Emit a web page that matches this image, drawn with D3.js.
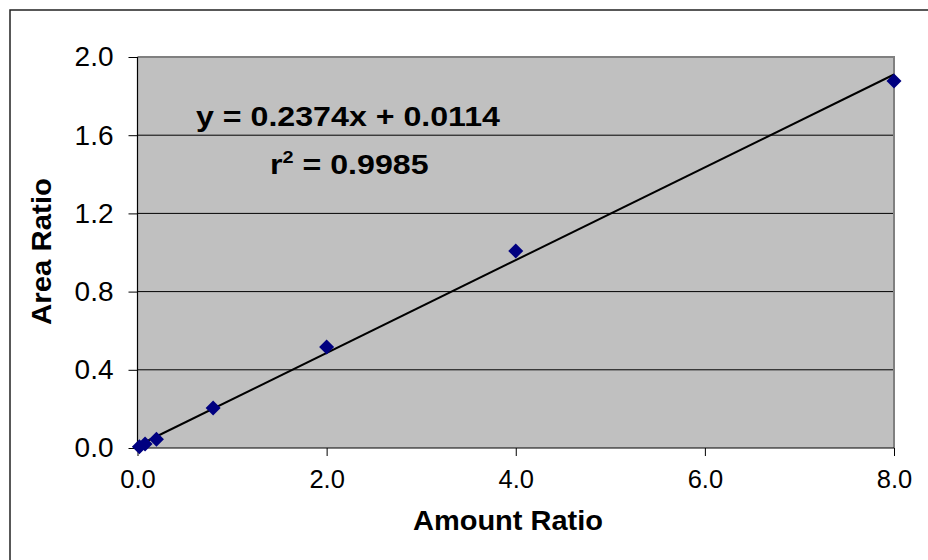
<!DOCTYPE html>
<html><head><meta charset="utf-8">
<script src="https://cdn.jsdelivr.net/npm/d3@7"></script>
<style>
html,body{margin:0;padding:0;background:#fff;}
svg{display:block;font-family:"Liberation Sans",Arial,sans-serif;}
</style></head>
<body>
<svg id="c" width="928" height="560"></svg>
<script>
const amountRatio = [0.02, 0.08, 0.2, 0.8, 2, 4, 8];
const areaRatio = [0.006, 0.02, 0.045, 0.205, 0.517, 1.008, 1.877];
const slope = 0.2374, intercept = 0.0114;
const xTicks = [0, 2, 4, 6, 8];
const yTicks = [0, 0.4, 0.8, 1.2, 1.6, 2.0];

const svg = d3.select("#c");
const L = 137.5, R = 894, T = 57, B = 448;
const x = d3.scaleLinear().domain([0, 8]).range([L, R]);
const y = d3.scaleLinear().domain([0, 2]).range([B, T]);

// outer border
svg.append("rect").attr("x", 10).attr("y", 10).attr("width", 940).attr("height", 600)
  .attr("fill", "none").attr("stroke", "#222").attr("stroke-width", 1.5);

// plot area
svg.append("rect").attr("x", L).attr("y", T).attr("width", R - L).attr("height", B - T)
  .attr("fill", "#c0c0c0");

// gridlines
svg.append("g").selectAll("line").data(yTicks.filter(d => d > 0 && d < 2)).join("line")
  .attr("x1", L).attr("x2", R).attr("y1", d => y(d)).attr("y2", d => y(d))
  .attr("stroke", "#000").attr("stroke-width", 1);

// top/right border grey
svg.append("path").attr("d", `M${L},${T}H${R}V${B}`).attr("fill", "none")
  .attr("stroke", "#808080").attr("stroke-width", 2);

// axes
const yAxis = d3.axisLeft(y).tickValues(yTicks).tickFormat(d3.format(".1f")).tickSize(9).tickPadding(15);
const gy = svg.append("g").attr("transform", `translate(${L},0)`).call(yAxis);
const xAxis = d3.axisBottom(x).tickValues(xTicks).tickFormat(d3.format(".1f")).tickSize(8).tickPadding(14);
const gx = svg.append("g").attr("transform", `translate(0,${B})`).call(xAxis);
[gx, gy].forEach(g => {
  g.select(".domain").attr("stroke", "#000").attr("stroke-width", 1.2);
  g.selectAll(".tick line").attr("stroke", "#000");
  g.selectAll(".tick text").attr("fill", "#000")
    .attr("font-family", "Liberation Sans, Arial, sans-serif");
});
gx.selectAll(".tick text").attr("font-size", 25.5);
gy.selectAll(".tick text").attr("font-size", 28);
gy.select(".domain").attr("d", `M0,${T}V${B}`);
gx.select(".domain").attr("d", `M${L},0H${R}`);

// trend line
svg.append("line").attr("x1", x(0)).attr("y1", y(intercept))
  .attr("x2", x(8)).attr("y2", y(slope * 8 + intercept))
  .attr("stroke", "#000").attr("stroke-width", 2);

// points
const pts = amountRatio.map((a, i) => [a, areaRatio[i]]);
svg.append("g").selectAll("path").data(pts).join("path")
  .attr("transform", d => `translate(${x(d[0])},${y(d[1])})`)
  .attr("d", "M0,-7.5L7.5,0L0,7.5L-7.5,0Z")
  .attr("fill", "#000080");

// axis titles
svg.append("text").attr("x", 413).attr("y", 530)
  .attr("font-size", 28).attr("font-weight", "bold")
  .attr("textLength", 190).attr("lengthAdjust", "spacingAndGlyphs").text("Amount Ratio");
svg.append("text").attr("transform", "translate(51,325) rotate(-90)")
  .attr("font-size", 28.5).attr("font-weight", "bold")
  .attr("textLength", 147).attr("lengthAdjust", "spacingAndGlyphs").text("Area Ratio");

// equation
svg.append("text").attr("x", 196).attr("y", 126).attr("font-size", 27).attr("font-weight", "bold")
  .attr("textLength", 304).attr("lengthAdjust", "spacingAndGlyphs")
  .text(`y = ${slope}x + ${intercept}`);
const r2 = svg.append("text").attr("transform", "translate(270,174) scale(1.17,1)")
  .attr("font-size", 27.5).attr("font-weight", "bold");
r2.append("tspan").text("r");
r2.append("tspan").attr("dy", -11).attr("font-size", 17).text("2");
r2.append("tspan").attr("dy", 11).text(" = 0.9985");
</script>
</body></html>
